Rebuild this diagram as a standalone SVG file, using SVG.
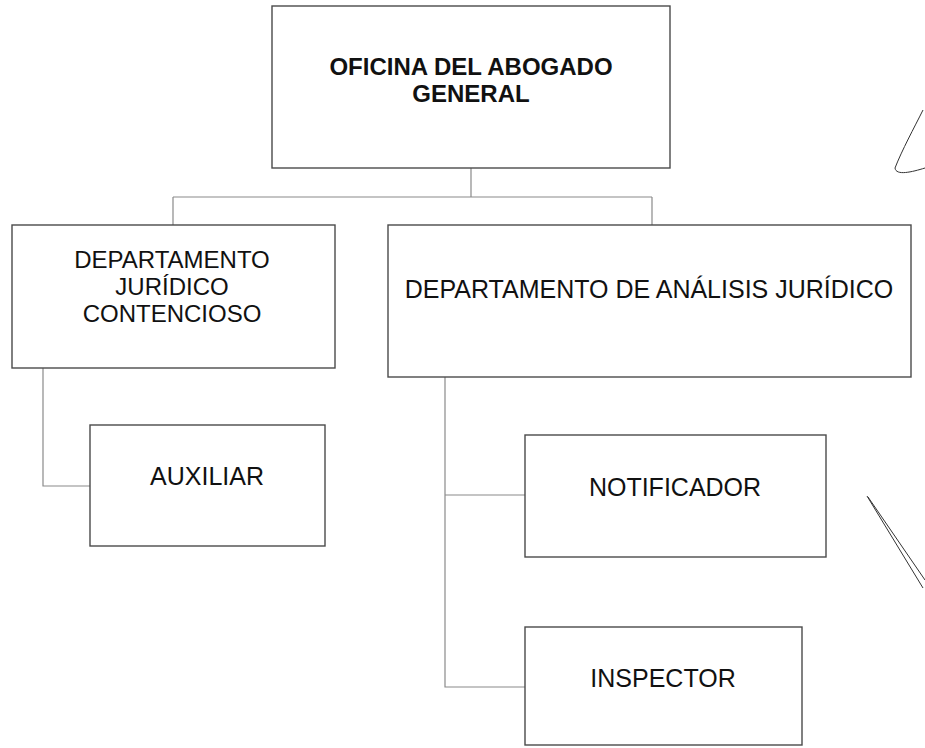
<svg xmlns="http://www.w3.org/2000/svg" width="925" height="748" viewBox="0 0 925 748">
<style>
.box{fill:#fff;stroke:#4a4a4a;stroke-width:1.4}
.con{fill:none;stroke:#8a8a8a;stroke-width:1.2}
.t{font-family:"Liberation Sans",Arial,sans-serif;font-size:25px;fill:#111;text-anchor:middle}
.s{font-size:24px}
.b{font-weight:bold}
.pen{fill:none;stroke:#333;stroke-width:1}
</style>
<rect width="925" height="748" fill="#fff"/>
<g id="connectors">
<path class="con" d="M471,168 V197 M173,197 H652 M173,197 V225 M652,197 V225"/>
<path class="con" d="M43,368 V486 H90"/>
<path class="con" d="M445,377 V687 H525 M445,495 H525"/>
</g>
<g id="oficina">
<rect class="box" x="272" y="6" width="398" height="162"/>
<text class="t s b" x="471" y="75">OFICINA DEL ABOGADO</text>
<text class="t s b" x="471" y="102">GENERAL</text>
</g>
<g id="juridico-contencioso">
<rect class="box" x="12" y="225" width="323" height="143"/>
<text class="t s" x="172" y="268">DEPARTAMENTO</text>
<text class="t s" x="172" y="295">JURÍDICO</text>
<text class="t s" x="172" y="322">CONTENCIOSO</text>
</g>
<g id="analisis-juridico">
<rect class="box" x="388" y="225" width="523" height="152"/>
<text class="t" x="649" y="298">DEPARTAMENTO DE ANÁLISIS JURÍDICO</text>
</g>
<g id="auxiliar">
<rect class="box" x="90" y="425" width="235" height="121"/>
<text class="t" x="207" y="485">AUXILIAR</text>
</g>
<g id="notificador">
<rect class="box" x="525" y="435" width="301" height="122"/>
<text class="t" x="675" y="496">NOTIFICADOR</text>
</g>
<g id="inspector">
<rect class="box" x="525" y="627" width="277" height="118"/>
<text class="t" x="663" y="687">INSPECTOR</text>
</g>
<g id="marks">
<path class="pen" d="M923,110 C914,128 902,150 895,168 C896,176 912,172 925,168"/>
<path class="pen" d="M867,496 L923,588 M868,497 L925,580"/>
</g>
</svg>
